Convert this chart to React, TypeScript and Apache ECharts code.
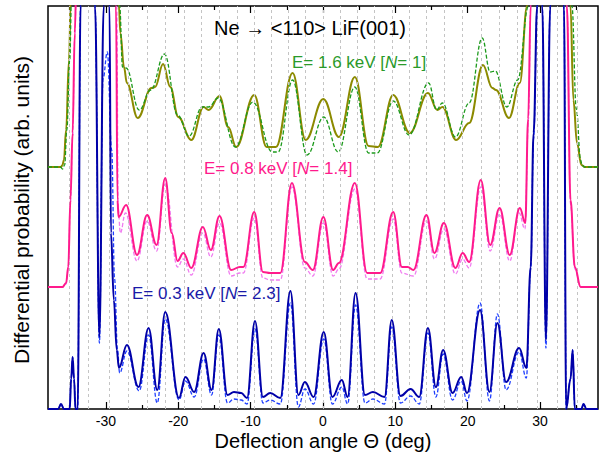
import React, { useEffect, useRef } from 'react';
import * as echarts from 'echarts';

// Axis ticks (deg)
const xMajorTicks = [-30, -20, -10, 0, 10, 20, 30];
const xMinorTicks = [-35, -25, -15, -5, 5, 15, 25, 35];
// Vertical reference lines (deg)
const braggAngles = [-35.1, -32.4, -29.6, -26.9, -24.3, -21.8, -19.2, -16.8, -14.3, -11.9, -9.5, -7.1, -4.8, -2.4, 0, 2.4, 4.8, 7.1, 9.5, 11.9, 14.3, 16.8, 19.2, 21.8, 24.3, 26.9, 29.6, 32.4, 35.1];

// [deflection angle (deg), probability (arb. units, offset curves)]
const e16Solid = [[-38,242],[-36.2,242],[-36.0,244],[-35.8,249],[-35.5,279],[-35.1,349],[-34.8,430],[-34.0,560],[-31.0,650],[-28.8,560],[-28.2,403],[-28.0,376],[-27.5,342],[-27.1,326],[-25.6,291],[-23.7,321],[-23.2,322],[-22.1,345],[-21.1,322],[-20.0,292],[-18.2,269],[-16.5,302],[-15.8,299],[-14.3,313],[-13.1,282],[-12.0,262],[-9.5,314],[-7.8,262],[-6.5,262],[-4.2,336],[-2.4,269],[0.05,310],[2.2,272],[4.4,332],[6.3,263],[7.6,262],[9.7,314],[12.0,276],[14.5,316],[15.8,299],[16.5,302],[18.4,269],[20.2,286],[22.1,344],[23.4,321],[23.9,319],[25.7,291],[27.2,326],[28.2,403],[28.8,560],[31.0,650],[34.0,560],[34.2,403],[34.6,309],[35.1,266],[35.7,244],[36.2,242],[38,242]];
const e16Dashed = [[-38,242],[-36.3,242],[-36.0,240],[-35.7,244],[-35.4,279],[-35.0,349],[-34.7,430],[-34.0,560],[-31.0,650],[-28.8,560],[-28.1,403],[-27.7,342],[-27.2,341],[-25.4,299],[-23.8,319],[-21.9,355],[-20.1,294],[-18.5,273],[-16.7,302],[-15.8,302],[-14.5,311],[-12.1,262],[-9.7,307],[-7.0,257],[-6.2,257],[-4.2,329],[-2.2,254],[0.1,292],[2.1,257],[4.4,322],[6.3,256],[7.5,256],[9.7,308],[11.9,274],[14.6,326],[15.7,299],[16.5,306],[18.3,272],[20.2,306],[22.0,371],[23.1,337],[23.8,338],[25.4,302],[26.9,329],[28.4,403],[28.9,560],[31.0,650],[34.2,560],[34.4,403],[35.0,300],[35.6,249],[35.8,244],[36.1,242],[38,242]];

const e08Solid = [[-38,122],[-36.0,122],[-35.5,126],[-35.2,142],[-34.9,209],[-34.6,276],[-34.3,376],[-34.0,460],[-31.0,600],[-28.8,460],[-28.6,403],[-28.4,209],[-28.25,192],[-27.2,204],[-25.7,154],[-24.3,194],[-23.0,164],[-21.8,231],[-20.9,176],[-20.1,148],[-19.3,156],[-18.2,141],[-16.6,182],[-15.5,159],[-14.3,193],[-12.7,139],[-11.5,142],[-11.0,142],[-9.5,197],[-8.3,137],[-7.3,136],[-5.9,136],[-4.3,226],[-2.5,147],[-1.4,139],[0.05,192],[1.4,139],[2.2,146],[4.4,226],[6.1,136],[7.9,136],[9.7,197],[10.9,142],[11.7,142],[12.5,139],[14.3,194],[15.4,156],[16.7,186],[18.3,141],[19.3,156],[20.2,147],[21.8,229],[23.1,164],[24.4,201],[25.8,154],[27.2,201],[27.95,186],[28.35,290],[28.7,403],[29.0,470],[31.0,600],[33.4,470],[33.7,403],[34.2,209],[34.8,142],[35.6,122],[38,122]];
const e08Dashed = [[-38,122],[-36.0,122],[-35.5,125],[-35.2,140],[-34.9,205],[-34.6,272],[-34.3,372],[-34.0,455],[-31.0,600],[-28.8,460],[-28.5,403],[-28.3,200],[-28.0,176],[-27.3,196],[-25.7,148],[-24.3,188],[-23.0,158],[-21.8,225],[-20.1,142],[-19.3,150],[-18.2,134],[-16.6,176],[-15.5,152],[-14.3,186],[-12.7,133],[-11.5,136],[-11.0,136],[-9.5,191],[-8.3,131],[-7.3,129],[-5.9,129],[-4.3,222],[-2.5,141],[-1.4,133],[0.05,186],[1.4,133],[2.2,140],[4.4,220],[6.1,130],[7.9,130],[9.7,190],[10.9,136],[12.5,133],[14.3,188],[15.4,150],[16.7,180],[18.3,135],[19.3,150],[20.2,141],[21.8,222],[23.1,158],[24.4,195],[25.8,148],[27.1,196],[27.9,180],[28.4,290],[28.7,403],[29.0,470],[31.0,600],[33.4,470],[33.7,403],[34.2,205],[34.8,140],[35.6,122],[38,122]];

const e03Solid = [[-38,0],[-36.6,0],[-36.2,5],[-35.8,0],[-35.0,0],[-34.8,30],[-34.6,52],[-34.4,30],[-34.2,0],[-33.9,0],[-33.5,403],[-33.2,500],[-32.0,600],[-31.5,403],[-30.9,72],[-30.3,403],[-29.9,520],[-29.5,403],[-29.3,176],[-28.9,109],[-28.5,59],[-28.2,41],[-27.1,64],[-25.5,22],[-24.1,81],[-22.9,19],[-21.8,97],[-19.9,11],[-19.0,32],[-17.8,17],[-16.5,56],[-15.4,19],[-14.4,80],[-13.2,14],[-12.3,17],[-11.3,16],[-10.5,11],[-9.4,88],[-8.3,12],[-7.3,16],[-5.9,11],[-4.5,118],[-3.4,14],[-2.5,27],[-1.3,12],[0.1,77],[1.3,12],[2.6,29],[3.4,12],[4.5,116],[5.8,14],[6.9,17],[8.5,12],[9.5,89],[10.7,13],[12.1,20],[13.3,12],[14.5,81],[15.6,22],[16.6,59],[17.9,16],[19.1,32],[19.9,16],[21.7,99],[23.0,17],[24.1,86],[25.3,27],[27.1,61],[28.1,41],[28.7,142],[29.1,276],[29.6,403],[30.0,520],[30.3,403],[30.8,69],[31.4,403],[32.4,600],[33.3,403],[33.6,0],[34.2,30],[34.5,59],[34.8,0],[35.7,0],[36.0,5],[36.4,0],[38,0]];
const e03Dashed = [[-38,0],[-36.6,0],[-36.2,5],[-35.8,0],[-35.0,0],[-34.8,30],[-34.6,52],[-34.4,30],[-34.2,0],[-33.9,0],[-33.5,403],[-33.2,500],[-32.0,600],[-31.5,403],[-30.9,66],[-30.4,330],[-29.8,357],[-29.2,259],[-28.8,130],[-28.4,60],[-28.1,36],[-27.1,58],[-25.4,18],[-24.1,74],[-22.9,6],[-21.8,90],[-19.9,9],[-19.0,28],[-17.8,12],[-16.5,50],[-15.4,14],[-14.4,74],[-13.2,6],[-12.3,10],[-11.3,9],[-10.5,5],[-9.4,80],[-8.3,6],[-7.3,9],[-5.9,5],[-4.5,106],[-3.4,2],[-2.5,20],[-1.3,5],[0.1,70],[1.3,5],[2.6,22],[3.4,5],[4.5,104],[5.8,6],[6.9,10],[8.5,5],[9.5,82],[10.7,6],[12.1,13],[13.3,5],[14.5,76],[15.6,12],[16.6,55],[17.9,9],[19.1,28],[19.9,8],[21.7,106],[23.0,8],[24.1,95],[25.3,19],[27.1,57],[28.1,31],[28.7,140],[29.1,270],[29.6,403],[30.0,520],[30.3,403],[30.8,61],[31.4,403],[32.4,600],[33.3,403],[33.6,0],[34.2,30],[34.5,59],[34.8,0],[35.7,0],[36.0,5],[36.4,0],[38,0]];

const FONT = '"Liberation Sans", Arial, Helvetica, sans-serif';

export default function App() {
  const ref = useRef<HTMLDivElement>(null);
  useEffect(() => {
    document.body.style.margin = '0';
    const chart = echarts.init(ref.current!, null, { renderer: 'svg' });
    const xAx = (position: string, ticks: number[], len: number, labels: boolean) => ({
      type: 'value', min: -38, max: 38, position,
      axisLine: { show: false },
      splitLine: { show: false },
      axisTick: { show: true, inside: true, length: len, customValues: ticks, lineStyle: { color: '#000', width: 1.2 } },
      axisLabel: labels
        ? { show: true, customValues: ticks, color: '#000', fontSize: 14, fontFamily: FONT, margin: 5 }
        : { show: false },
    });
    const line = (data: number[][], color: string, width: number, dashed: boolean, z: number) => ({
      type: 'line', data, symbol: 'none', showSymbol: false, smooth: 0.4, smoothMonotone: 'x',
      clip: true, silent: true, z,
      lineStyle: { color, width, type: dashed ? [4, 2] : 'solid' },
    });
    const lbl = (x: number, y: number, a: string, n: string, b: string, color: string) => ({
      type: 'text', x, y, z: 50,
      style: {
        text: `{a|${a}}{i|${n}}{a|${b}}`,
        fill: color, fontSize: 17, fontFamily: FONT, verticalAlign: 'middle', align: 'left',
        rich: {
          a: { fill: color, fontSize: 17, fontFamily: FONT },
          i: { fill: color, fontSize: 17, fontFamily: FONT, fontStyle: 'italic' },
        },
      },
    });
    chart.setOption({
      animation: false,
      grid: { left: 48, right: 9, top: 6, bottom: 45, show: true, borderColor: '#000', borderWidth: 1.5, backgroundColor: 'transparent' },
      xAxis: [
        xAx('bottom', xMajorTicks, 7, true),
        xAx('bottom', xMinorTicks, 4, false),
        xAx('top', xMajorTicks, 7, false),
        xAx('top', xMinorTicks, 4, false),
      ],
      yAxis: [{ type: 'value', min: 0, max: 403, axisLine: { show: false }, axisTick: { show: false }, axisLabel: { show: false }, splitLine: { show: false } }],
      series: [
        {
          type: 'line', data: [], z: 1, silent: true,
          markLine: {
            silent: true, symbol: ['none', 'none'], label: { show: false },
            lineStyle: { type: [3, 3], color: '#c4c4c4', width: 1 },
            data: braggAngles.map((v) => ({ xAxis: v })),
          },
        },
        line(e16Solid, '#8c8a00', 2, false, 2),
        line(e16Dashed, '#1c9a1c', 1.3, true, 3),
        line(e08Dashed, '#f07cf0', 1.3, true, 4),
        line(e08Solid, '#ff1a8c', 2, false, 5),
        line(e03Dashed, '#1f3fff', 1.3, true, 6),
        line(e03Solid, '#0000a8', 2, false, 7),
      ],
      graphic: [
        { type: 'text', x: 310, y: 28, z: 50, style: { text: 'Ne \u2192 <110> LiF(001)', fill: '#000', fontSize: 20, fontFamily: FONT, align: 'center', verticalAlign: 'middle' } },
        lbl(292, 62, 'E= 1.6 keV [', 'N', '= 1]', '#2a9a2a'),
        lbl(204, 168, 'E= 0.8 keV [', 'N', '= 1.4]', '#ff1a8c'),
        lbl(132, 293, 'E= 0.3 keV [', 'N', '= 2.3]', '#1a1aa8'),
        { type: 'text', x: 323, y: 441, z: 50, style: { text: 'Deflection angle \u0398 (deg)', fill: '#000', fontSize: 20, fontFamily: FONT, align: 'center', verticalAlign: 'middle' } },
        { type: 'text', x: 21, y: 210, rotation: Math.PI / 2, z: 50, style: { text: 'Differential probability (arb. units)', fill: '#000', fontSize: 21, fontFamily: FONT, align: 'center', verticalAlign: 'middle' } },
      ],
    });
    return () => chart.dispose();
  }, []);
  return <div ref={ref} style={{ width: 607, height: 454 }} />;
}
